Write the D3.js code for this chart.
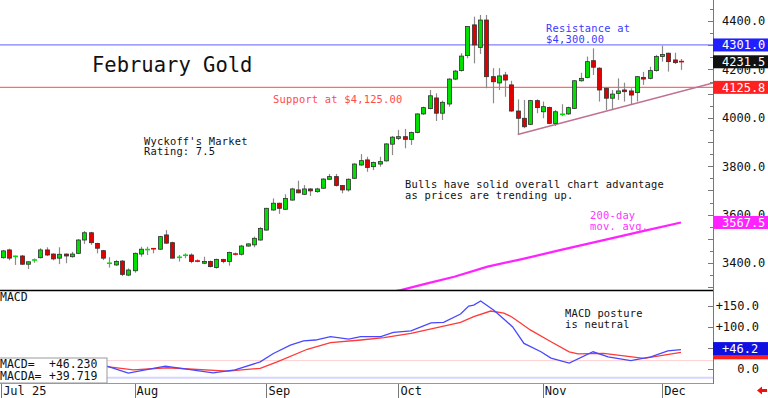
<!DOCTYPE html>
<html><head><meta charset="utf-8">
<script src="https://cdn.jsdelivr.net/npm/d3@7"></script>
<style>body{margin:0;background:#fff}svg{display:block}text{font-family:"DejaVu Sans Mono",monospace}</style>
</head><body><svg id="c" width="768" height="398"></svg>
<script>
// ---- data ----
const opens  = [3422,3454,3426,3429,3395,3411,3422,3454,3437,3420,3437,3426,3440,3495,3525,3481,3451,3398,3392,3408,3350,3368,3437,3454,3461,3457,3516,3484,3421,3429,3433,3409,3399,3406,3381,3415,3406,3438,3436,3470,3475,3495,3536,3619,3647,3622,3660,3702,3684,3706,3695,3709,3746,3757,3720,3702,3750,3805,3826,3798,3809,3822,3891,3915,3922,3911,3939,4016,4038,4082,4019,4057,4160,4195,4257,4384,4291,4404,4170,4144,4177,4136,4028,3998,3973,4071,4025,4043,3977,4013,4016,4039,4153,4167,4236,4205,4122,4081,4101,4115,4111,4104,4167,4163,4195,4253,4267,4239,4233];
const highs  = [3454,3459,3431,3433,3406,3419,3461,3465,3440,3465,3439,3446,3499,3532,3529,3484,3454,3424,3412,3412,3378,3443,3467,3467,3462,3512,3536,3488,3433,3440,3440,3415,3426,3410,3418,3417,3447,3443,3475,3481,3509,3548,3628,3667,3649,3684,3711,3740,3722,3709,3711,3750,3768,3768,3722,3750,3812,3850,3839,3819,3839,3895,3925,3950,3954,3943,4019,4046,4115,4101,4071,4163,4198,4267,4379,4418,4425,4425,4205,4205,4190,4153,4076,4074,4074,4076,4067,4046,4032,4056,4046,4156,4186,4253,4287,4209,4126,4115,4163,4145,4122,4173,4190,4211,4260,4298,4269,4269,4243];
const lows   = [3418,3411,3392,3392,3375,3401,3419,3429,3411,3395,3399,3422,3437,3479,3475,3440,3412,3381,3388,3346,3346,3360,3426,3433,3440,3454,3479,3419,3406,3420,3399,3403,3395,3382,3377,3399,3389,3431,3431,3467,3465,3492,3534,3616,3603,3619,3658,3688,3681,3677,3690,3706,3743,3716,3688,3695,3747,3802,3777,3784,3798,3819,3846,3908,3874,3888,3936,4012,4035,3987,3991,4046,4156,4191,4246,4225,4264,4122,4060,4115,4087,4025,3933,3957,3970,4019,3998,3974,3966,4007,4012,4036,4149,4163,4177,4067,4032,4032,4074,4067,4053,4067,4136,4159,4191,4232,4191,4222,4198];
const closes = [3450,3420,3429,3395,3405,3414,3454,3433,3417,3436,3429,3437,3495,3525,3484,3461,3420,3400,3406,3353,3371,3440,3457,3457,3457,3509,3482,3420,3426,3435,3406,3407,3406,3385,3415,3406,3443,3436,3470,3479,3502,3543,3626,3647,3626,3667,3706,3690,3706,3698,3706,3747,3757,3720,3702,3746,3809,3823,3795,3815,3819,3892,3920,3922,3911,3939,4016,4042,4091,4019,4064,4160,4193,4255,4377,4301,4404,4170,4149,4173,4156,4028,3998,3963,4071,4042,4046,3977,4025,4016,4042,4153,4163,4232,4209,4115,4081,4098,4111,4108,4094,4170,4160,4195,4253,4262,4232,4228,4231.5];

const monthTickIdx = [-0.25,21,42,63,86,105];
const monthLabels  = ["Jul 25","Aug","Sep","Oct","Nov","Dec"];
const priceTicks   = [3400,3600,3800,4000,4200,4400];
const macdTicks    = [0,50,100,150];
const macdTickLabels = ["0.0","+50.0","+100.0","+150.0"];

// MACD (blue) and signal (red) vertices as [bar index, value]
const macdPts = [[10,12],[16.6,7],[20,-10],[25.9,7],[33.5,-9],[37,-2],[41,17],[43.1,37],[45.8,57],[47.9,67],[49.8,69],[52.2,77],[55.1,71],[57,77],[60.2,77],[62.2,87],[65,91],[68.2,110],[70.2,111],[72.9,131],[74.2,150],[75,152],[76.1,162],[78.2,140],[80.1,115],[81.2,100],[83,61],[85.7,41],[87.3,26],[90.2,14],[94,41],[96.4,29],[100,20],[103.2,29],[105.9,43],[108,46.2]];
const signalPts = [[10,8],[16.6,5.5],[20.8,-2],[26.2,3],[35.8,-5],[41,1.7],[43.7,17],[48.5,47],[52.2,63],[57,69],[60.7,74.5],[65,85],[72.9,111],[75,124.5],[77.7,138],[79.8,133],[81,124.5],[82.5,109],[84,93],[87.3,65],[90.2,41],[91.6,36],[95.7,37],[102.1,25.5],[108,39.7]];
const ma200Pts = [[58,3262],[63.4,3288],[67.6,3316],[71.9,3343],[77.2,3385],[82.5,3415],[88.9,3454],[96.9,3502],[102.1,3533],[108,3567.5]];
const trendPts = [[82,3931],[100,4054]];

const resistance = 4301.0, support = 4125.8, lastClose = 4231.5, ma200Last = 3567.5;
const macdLast = 46.230, macdaLast = 39.719;

// ---- layout ----
const svg = d3.select("#c");
const plotRight = 713, priceBottom = 290, macdTop = 291, macdBottom = 383;
const x = d3.scaleLinear().domain([0,108]).range([2.7,681]);
const y = d3.scaleLinear().domain([3400,4400]).range([263,21]);
const ym = d3.scaleLinear().domain([0,150]).range([369,306]);

const defs = svg.append("defs");
defs.append("clipPath").attr("id","pc").append("rect").attr("x",0).attr("y",0).attr("width",plotRight).attr("height",priceBottom);
defs.append("clipPath").attr("id","mc").append("rect").attr("x",0).attr("y",macdTop).attr("width",plotRight).attr("height",macdBottom-macdTop);

// price panel
const pg = svg.append("g").attr("clip-path","url(#pc)");
pg.append("line").attr("x1",0).attr("x2",plotRight).attr("y1",y(resistance)).attr("y2",y(resistance)).attr("stroke","#8080ff").attr("stroke-width",1.2);
pg.append("line").attr("x1",0).attr("x2",plotRight).attr("y1",y(support)).attr("y2",y(support)).attr("stroke","#ff6b6b").attr("stroke-width",1.2);

// trendline extended to right edge
const tSlope = (trendPts[1][1]-trendPts[0][1])/(trendPts[1][0]-trendPts[0][0]);
const iEnd = x.invert(plotRight);
pg.append("line").attr("x1",x(trendPts[0][0])).attr("y1",y(trendPts[0][1]))
  .attr("x2",plotRight).attr("y2",y(trendPts[0][1]+tSlope*(iEnd-trendPts[0][0])))
  .attr("stroke","#c07090").attr("stroke-width",1.5);

// 200-day MA
pg.append("path").datum(ma200Pts).attr("fill","none").attr("stroke","#ff22ff").attr("stroke-width",2.2)
  .attr("d",d3.line().x(d=>x(d[0])).y(d=>y(d[1])));

// candles
const idx = d3.range(opens.length);
const cg = pg.append("g");
cg.selectAll("line.w").data(idx).join("line").attr("class","w")
  .attr("x1",i=>Math.round(x(i))+0.5).attr("x2",i=>Math.round(x(i))+0.5)
  .attr("y1",i=>y(highs[i])).attr("y2",i=>y(lows[i]))
  .attr("stroke","#8a8a8a").attr("stroke-width",1.2);
idx.forEach(i=>{
  const up = closes[i]>=opens[i];
  const top = y(Math.max(opens[i],closes[i])), bot = y(Math.min(opens[i],closes[i]));
  const cx = Math.round(x(i))+0.5;
  const col = up ? "#00e000" : "#e00000";
  if (bot-top < 1.6) {
    cg.append("line").attr("x1",cx-2.5).attr("x2",cx+2.5).attr("y1",(top+bot)/2).attr("y2",(top+bot)/2)
      .attr("stroke",col).attr("stroke-width",1.6);
  } else {
    cg.append("rect").attr("x",cx-2).attr("y",top).attr("width",4).attr("height",bot-top)
      .attr("fill",col).attr("stroke","#303030").attr("stroke-width",0.8);
  }
});

// panel separators and axes
svg.append("line").attr("x1",0).attr("x2",plotRight).attr("y1",290.5).attr("y2",290.5).attr("stroke","#000").attr("stroke-width",1.5);
svg.append("line").attr("x1",0).attr("x2",plotRight).attr("y1",383.5).attr("y2",383.5).attr("stroke","#999");
svg.append("line").attr("x1",plotRight+0.5).attr("x2",plotRight+0.5).attr("y1",0).attr("y2",384).attr("stroke","#777");

// right price axis ticks / labels
const ptAll = d3.range(3300,4500,50);
svg.selectAll("line.pt").data(ptAll.filter(v=>y(v)>0&&y(v)<priceBottom)).join("line").attr("class","pt")
  .attr("x1",d=>d%100===0?plotRight-5:plotRight-3).attr("x2",plotRight)
  .attr("y1",d=>Math.round(y(d))+0.5).attr("y2",d=>Math.round(y(d))+0.5).attr("stroke","#777");
svg.selectAll("text.pl").data(priceTicks).join("text").attr("class","pl")
  .attr("x",722).attr("y",d=>y(d)).attr("dy","0.36em").attr("font-size",12).attr("fill","#111")
  .text(d=>d3.format(".1f")(d));

// MACD panel
const mg = svg.append("g").attr("clip-path","url(#mc)");
mg.append("line").attr("x1",0).attr("x2",plotRight).attr("y1",ym(20)).attr("y2",ym(20)).attr("stroke","#ffd0d0");
mg.append("line").attr("x1",0).attr("x2",plotRight).attr("y1",ym(-21)).attr("y2",ym(-21)).attr("stroke","#d4d4ff").attr("stroke-width",2);
const ml = d3.line().x(d=>x(d[0])).y(d=>ym(d[1]));
mg.append("path").datum(signalPts).attr("fill","none").attr("stroke","#ff3838").attr("stroke-width",1.3).attr("d",ml);
mg.append("path").datum(macdPts).attr("fill","none").attr("stroke","#4848ff").attr("stroke-width",1.3).attr("d",ml);

svg.selectAll("line.mt").data(macdTicks).join("line").attr("class","mt")
  .attr("x1",plotRight-5).attr("x2",plotRight).attr("y1",d=>Math.round(ym(d))+0.5).attr("y2",d=>Math.round(ym(d))+0.5).attr("stroke","#777");
svg.selectAll("text.ml").data(macdTicks).join("text").attr("class","ml")
  .attr("x",759).attr("text-anchor","end").attr("y",d=>ym(d)).attr("dy","0.36em").attr("font-size",12).attr("fill","#111")
  .text((d,i)=>macdTickLabels[i]);

svg.append("text").attr("x",0).attr("y",301).attr("font-size",11.5).attr("fill","#111").text("MACD");

// MACD value box
svg.append("rect").attr("x",-1).attr("y",358).attr("width",108).attr("height",25).attr("fill","#fff").attr("stroke","#999");
[["MACD=",macdLast,368],["MACDA=",macdaLast,380]].forEach(r=>{
  svg.append("text").attr("x",0).attr("y",r[2]).attr("font-size",11.5).attr("fill","#111").text(r[0]);
  svg.append("text").attr("x",49).attr("y",r[2]).attr("font-size",11.5).attr("fill","#111").text(d3.format("+.3f")(r[1]));
});

// bottom month axis
svg.selectAll("line.mo").data(monthTickIdx).join("line").attr("class","mo")
  .attr("x1",d=>Math.round(x(d))+0.5).attr("x2",d=>Math.round(x(d))+0.5).attr("y1",384).attr("y2",398).attr("stroke","#777");
svg.selectAll("text.mo").data(monthTickIdx).join("text").attr("class","mo")
  .attr("x",d=>x(d)+2).attr("y",395).attr("font-size",12).attr("fill","#111").text((d,i)=>monthLabels[i]);

// value boxes on right axis
function vbox(yy, bg, txt){
  svg.append("rect").attr("x",plotRight).attr("y",yy-6.5).attr("width",768-plotRight).attr("height",13).attr("fill",bg);
  if (txt) svg.append("text").attr("x",722).attr("y",yy).attr("dy","0.36em").attr("font-size",12).attr("fill","#fff").text(txt);
}
vbox(y(resistance),"#2020ff",d3.format(".1f")(resistance));
vbox(y(lastClose),"#111",d3.format(".1f")(lastClose));
vbox(y(support),"#ff2020",d3.format(".1f")(support));
vbox(y(ma200Last),"#ff22ff",d3.format(".1f")(ma200Last));
vbox(ym(macdaLast)+0.5,"#ff2020",null);
vbox(ym(macdLast)-1,"#1010e0",d3.format("+.1f")(macdLast));

// red arrow
svg.append("path").attr("d","M757,390.5 L762,386.5 L762,389 L767,389 L767,392 L762,392 L762,394.5 Z").attr("fill","#ee1111");

// annotations
const ann = svg.append("g").attr("font-size",10.4);
svg.append("text").attr("x",92).attr("y",72).attr("font-size",20.5).attr("fill","#111").text("February Gold");
ann.append("text").attr("x",546).attr("y",32).attr("fill","#3a3aff").text("Resistance at");
ann.append("text").attr("x",546).attr("y",42.5).attr("fill","#3a3aff").text("$4,300.00");
ann.append("text").attr("x",273).attr("y",102.5).attr("fill","#ff4a4a").text("Support at $4,125.00");
ann.append("text").attr("x",144).attr("y",144.5).attr("fill","#111").text("Wyckoff's Market");
ann.append("text").attr("x",144).attr("y",155).attr("fill","#111").text("Rating: 7.5");
ann.append("text").attr("x",405).attr("y",188).attr("fill","#111").text("Bulls have solid overall chart advantage");
ann.append("text").attr("x",405).attr("y",198.5).attr("fill","#111").text("as prices are trending up.");
ann.append("text").attr("x",590).attr("y",219).attr("fill","#ff33ff").text("200-day");
ann.append("text").attr("x",590).attr("y",229.5).attr("fill","#ff33ff").text("mov. avg.");
ann.append("text").attr("x",565).attr("y",317).attr("fill","#111").text("MACD posture");
ann.append("text").attr("x",565).attr("y",327.5).attr("fill","#111").text("is neutral");
ann.selectAll("text").attr("letter-spacing",0.22);
</script></body></html>
